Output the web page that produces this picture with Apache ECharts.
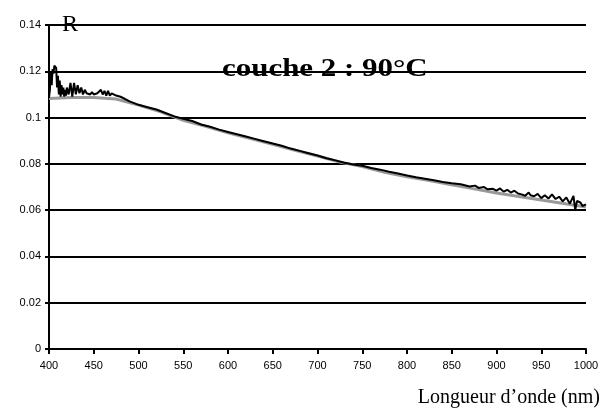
<!DOCTYPE html>
<html>
<head>
<meta charset="utf-8">
<script src="https://cdn.jsdelivr.net/npm/echarts@6/dist/echarts.min.js"></script>
<style>
	html, body { margin: 0; padding: 0; background: #fff; }
	#chart { width: 614px; height: 419px; }
</style>
</head>
<body>
<div id="chart"></div>
<script>
// courbe mesurée (noire)
var mesureWl = [400, 401, 402, 403, 404, 405, 406, 407, 408, 409, 410, 411, 412, 413, 414, 415, 416, 417, 418, 419,
	420, 422, 424, 426, 428, 430, 432, 434, 436, 438, 440, 442, 444, 446, 448, 450, 452, 454, 456, 458,
	460, 462, 464, 466, 468, 470, 475, 480, 490, 500, 510, 520, 530, 540, 550, 560, 570, 580, 590, 600,
	610, 620, 630, 640, 650, 660, 670, 680, 690, 700, 710, 720, 730, 740, 750, 760, 770, 780, 790, 800,
	810, 820, 830, 840, 850, 860, 870, 876, 880, 886, 890, 896, 900, 904, 908, 912, 916, 920, 924, 928,
	932, 936, 938, 942, 946, 950, 954, 958, 962, 966, 970, 974, 978, 982, 986, 988, 990, 994, 996, 1000];
var mesureR = [0.1085, 0.112, 0.120, 0.114, 0.121, 0.119, 0.1225, 0.122, 0.1215, 0.113, 0.118, 0.110, 0.116, 0.109, 0.114, 0.110, 0.113, 0.109, 0.112, 0.1095,
	0.113, 0.110, 0.115, 0.109, 0.115, 0.110, 0.114, 0.1105, 0.113, 0.110, 0.112, 0.1105, 0.1105, 0.110, 0.111, 0.110, 0.110, 0.1105, 0.110, 0.112,
	0.110, 0.1115, 0.1095, 0.1115, 0.1095, 0.1105, 0.1095, 0.109, 0.107, 0.1055, 0.1045, 0.1035, 0.102, 0.1005, 0.0995, 0.0985, 0.097, 0.096, 0.0948, 0.0938,
	0.0928, 0.0918, 0.0908, 0.0898, 0.0888, 0.0878, 0.0866, 0.0856, 0.0846, 0.0836, 0.0824, 0.0815, 0.0805, 0.0797, 0.0792, 0.0782, 0.0775, 0.0766, 0.0758, 0.0750,
	0.0742, 0.0736, 0.0729, 0.0722, 0.0716, 0.0712, 0.0702, 0.0706, 0.0696, 0.0700, 0.0690, 0.0692, 0.0684, 0.0694, 0.0680, 0.0688, 0.0676, 0.0684, 0.0672, 0.0668,
	0.0662, 0.0676, 0.0664, 0.0660, 0.0670, 0.0652, 0.0664, 0.0650, 0.0668, 0.0648, 0.0658, 0.0638, 0.0655, 0.0628, 0.0662, 0.0600, 0.0640, 0.0632, 0.0618, 0.0625];

// courbe calculée (grise)
var calculWl = [400, 425, 450, 475, 500, 525, 550, 575, 600, 625, 650, 675, 700, 725, 750, 775, 800, 825, 850, 875, 900, 925, 950, 975, 1000];
var calculR = [0.1082, 0.1087, 0.1087, 0.1080, 0.1054, 0.1025, 0.0988, 0.0962, 0.0934, 0.0909, 0.0884, 0.0859, 0.0834, 0.0808, 0.0788, 0.0764, 0.0744, 0.0728, 0.0710, 0.0692, 0.0674, 0.0659, 0.0644, 0.0629, 0.0614];

var axeX = { min: 400, max: 1000, interval: 50 };
var axeY = { min: 0, max: 0.14, interval: 0.02 };

function paires(xs, ys) {
	var out = [];
	for (var i = 0; i < xs.length; i++) {
		out.push([xs[i], ys[i]]);
	}
	return out;
}

var myChart = echarts.init(document.getElementById('chart'));

var option = {
	animation: false,
	backgroundColor: '#fff',
	title: [{
		text: 'R',
		left: 57,
		top: 8,
		textStyle: { fontFamily: 'Liberation Serif', fontWeight: 'normal', fontSize: 24, color: '#000' }
	}, {
		text: 'Longueur d’onde (nm)',
		right: 9,
		top: 383,
		textStyle: { fontFamily: 'Liberation Serif', fontWeight: 'normal', fontSize: 20, color: '#000' }
	}],
	// titre étiré comme dans l'original
	graphic: [{
		type: 'text',
		left: 222,
		top: 56,
		scaleX: 1.19,
		originX: 0,
		style: {
			text: 'couche 2 : 90°C',
			font: 'bold 26px "Liberation Serif"',
			fill: '#000'
		},
		z: 10
	}],
	grid: {
		left: 49,
		right: 28,
		top: 25,
		bottom: 70
	},
	xAxis: {
		type: 'value',
		min: axeX.min,
		max: axeX.max,
		interval: axeX.interval,
		axisLine: { show: true, lineStyle: { color: '#000', width: 2 } },
		axisTick: { show: true, length: 5, lineStyle: { color: '#000', width: 2 } },
		axisLabel: {
			color: '#000', fontFamily: 'Liberation Sans', fontSize: 11, margin: 11,
			formatter: function(v) { return String(v); }
		},
		splitLine: { show: false }
	},
	yAxis: {
		type: 'value',
		min: axeY.min,
		max: axeY.max,
		interval: axeY.interval,
		axisLine: { show: true, lineStyle: { color: '#000', width: 2 } },
		axisTick: { show: true, length: 4, lineStyle: { color: '#000', width: 2 } },
		axisLabel: {
			color: '#000', fontFamily: 'Liberation Sans', fontSize: 11, margin: 8,
			formatter: function(v) { return String(v); }
		},
		splitLine: { show: true, lineStyle: { color: '#000', width: 2 } }
	},
	series: [{
		name: 'calcul',
		type: 'line',
		data: paires(calculWl, calculR),
		showSymbol: false,
		lineStyle: { color: '#999', width: 3 },
		z: 2
	}, {
		name: 'mesure',
		type: 'line',
		data: paires(mesureWl, mesureR),
		showSymbol: false,
		lineStyle: { color: '#000', width: 2 },
		z: 3
	}]
};

myChart.setOption(option);
</script>
</body>
</html>
